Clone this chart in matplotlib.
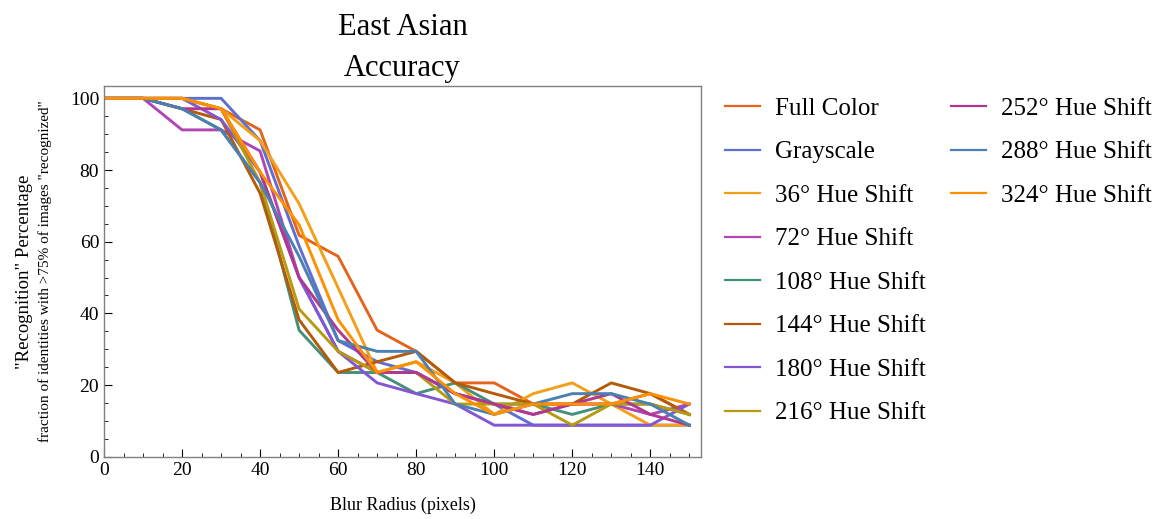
import matplotlib
matplotlib.use('Agg')
import matplotlib.pyplot as plt
from matplotlib.ticker import MultipleLocator

plt.rcParams['font.family'] = ['Liberation Serif', 'DejaVu Serif']
plt.rcParams['mathtext.fontset'] = 'stix'

# Data (percent of identities "recognized")
blur = [0, 10, 20, 30, 40, 50, 60, 70, 80, 90, 100, 110, 120, 130, 140, 150]

full_color = [100, 100, 100, 97.1, 91.2, 61.8, 55.9, 35.3, 29.4, 20.6, 20.6, 14.7, 14.7, 14.7, 17.6, 11.8]
grayscale = [100, 100, 100, 100, 88.2, 58.8, 32.4, 26.5, 23.5, 17.6, 14.7, 8.8, 8.8, 8.8, 8.8, 8.8]
hue_36 = [100, 100, 100, 97.1, 88.2, 70.6, 47.1, 23.5, 26.5, 20.6, 11.8, 17.6, 20.6, 14.7, 8.8, 8.8]
hue_72 = [100, 100, 91.2, 91.2, 85.3, 50.0, 29.4, 23.5, 23.5, 17.6, 14.7, 11.8, 14.7, 14.7, 11.8, 14.7]
hue_108 = [100, 100, 97.1, 91.2, 76.5, 35.3, 23.5, 23.5, 17.6, 20.6, 14.7, 14.7, 11.8, 14.7, 14.7, 11.8]
hue_144 = [100, 100, 97.1, 94.1, 73.5, 38.2, 23.5, 26.5, 29.4, 20.6, 17.6, 14.7, 14.7, 20.6, 17.6, 11.8]
hue_180 = [100, 100, 100, 94.1, 79.4, 50.0, 29.4, 20.6, 17.6, 14.7, 8.8, 8.8, 8.8, 8.8, 8.8, 14.7]
hue_216 = [100, 100, 100, 97.1, 76.5, 41.2, 29.4, 23.5, 23.5, 14.7, 14.7, 14.7, 8.8, 14.7, 14.7, 11.8]
hue_252 = [100, 100, 97.1, 97.1, 79.4, 50.0, 35.3, 23.5, 23.5, 17.6, 14.7, 11.8, 14.7, 17.6, 11.8, 8.8]
hue_288 = [100, 100, 97.1, 91.2, 76.5, 55.9, 32.4, 29.4, 29.4, 14.7, 11.8, 14.7, 17.6, 17.6, 14.7, 8.8]
hue_324 = [100, 100, 100, 97.1, 79.4, 64.7, 38.2, 23.5, 26.5, 17.6, 11.8, 14.7, 14.7, 14.7, 17.6, 14.7]

labels = ['Full Color', 'Grayscale', '36° Hue Shift', '72° Hue Shift', '108° Hue Shift',
          '144° Hue Shift', '180° Hue Shift', '216° Hue Shift', '252° Hue Shift',
          '288° Hue Shift', '324° Hue Shift']
series = [full_color, grayscale, hue_36, hue_72, hue_108, hue_144, hue_180,
          hue_216, hue_252, hue_288, hue_324]
colors = ['#E4641E', '#5E70CF', '#F2A01A', '#B046B4', '#45907A', '#B45A08',
          '#8356D4', '#B89A10', '#B0388E', '#4A80B2', '#FF9000']

fig = plt.figure(figsize=(11.57, 5.19), dpi=100)
ax = fig.add_axes([0.0899, 0.12, 0.516, 0.714])

handles = []
for ys, lab, col in zip(series, labels, colors):
    h, = ax.plot(blur, ys, color=col, lw=2.1, label=lab)
    handles.append(h)

ax.set_xlim(0, 153)
ax.set_ylim(0, 103.4)
ax.xaxis.set_major_locator(MultipleLocator(20))
ax.xaxis.set_minor_locator(MultipleLocator(5))
ax.yaxis.set_major_locator(MultipleLocator(20))
ax.yaxis.set_minor_locator(MultipleLocator(5))
ax.tick_params(which='both', direction='in', top=False, right=False, labelsize=14)
ax.tick_params(which='major', length=6, width=0.8)
ax.tick_params(which='minor', length=3, width=0.6)
for sp in ax.spines.values():
    sp.set_color('#808080')
    sp.set_linewidth(1.0)

ax.set_title('East Asian\nAccuracy', fontsize=22, pad=7, linespacing=1.55)
ax.set_xlabel('Blur Radius (pixels)', fontsize=13, labelpad=13)
ax.set_ylabel('"Recognition" Percentage', fontsize=13.5)
ax.yaxis.set_label_coords(-0.119, 0.5)
ax.text(-0.098, 0.5, 'fraction of identities with >75% of images "recognized"',
        transform=ax.transAxes, rotation=90, fontsize=11, ha='center', va='center')

# legend: 8 entries in the first column, 3 in the second
leg_kw = dict(loc='upper left', frameon=False, fontsize=18, handlelength=1.4,
              handletextpad=0.6, labelspacing=0.84, borderaxespad=0.2)
leg1 = ax.legend(handles=handles[:8], bbox_to_anchor=(1.015, 1.01), **leg_kw)
for line in leg1.get_lines():
    line.set_linewidth(1.6)
ax.add_artist(leg1)
leg2 = ax.legend(handles=handles[8:], bbox_to_anchor=(1.394, 1.01), **leg_kw)
for line in leg2.get_lines():
    line.set_linewidth(1.6)

plt.savefig('out.png', dpi=100)
